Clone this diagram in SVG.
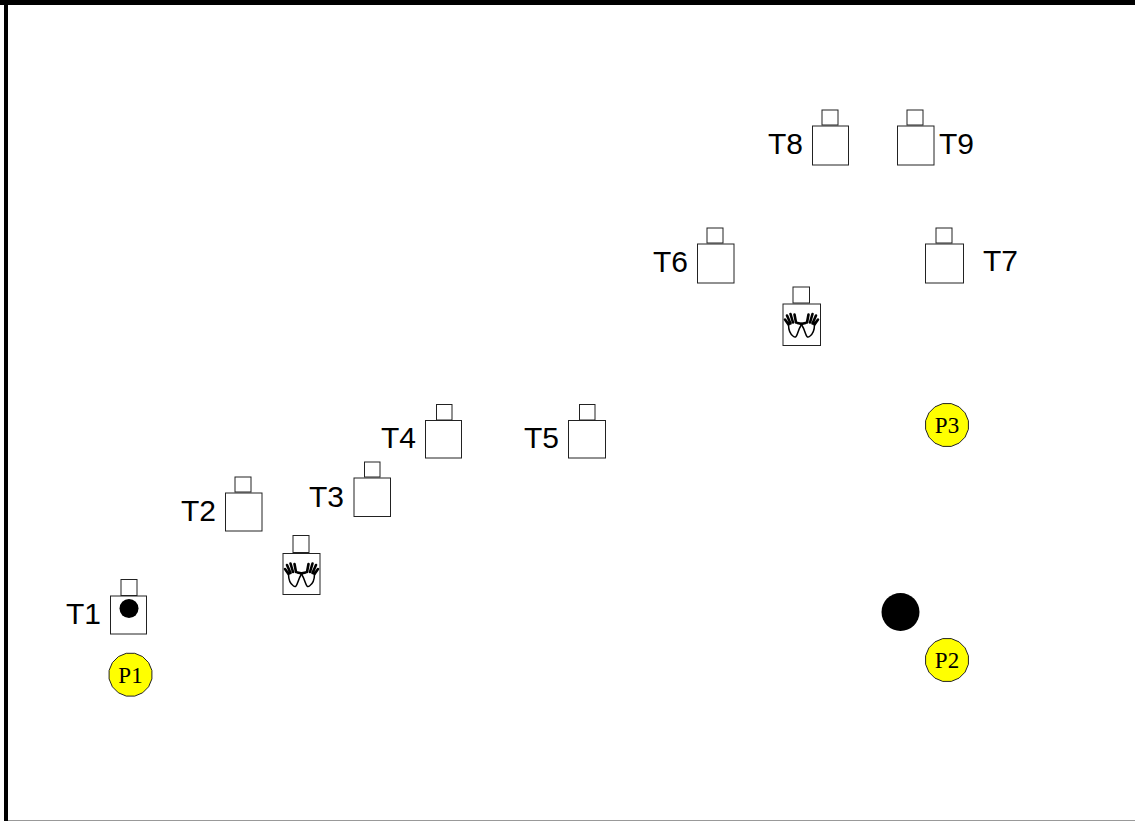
<svg xmlns="http://www.w3.org/2000/svg" width="1135" height="821" viewBox="0 0 1135 821">
<style>
.b{fill:#fff;stroke:#222;stroke-width:1}
.t{font-family:"Liberation Sans",Arial,sans-serif;font-size:30px;fill:#000}
.p{fill:#ff0;stroke:#222;stroke-width:1}
.l{font-family:"Liberation Serif","Times New Roman",serif;font-size:23px;fill:#000;text-anchor:middle}
.h{fill:none;stroke:#000;stroke-width:1.5;stroke-linejoin:round;stroke-linecap:round}
.f{fill:none;stroke:#000;stroke-width:2.6;stroke-linecap:round}
</style>
<defs>
<polygon id="disc" class="p" points="4.25,-21.4 12.1,-18.1 18.1,-12.1 21.4,-4.25 21.4,4.25 18.1,12.1 12.1,18.1 4.25,21.4 -4.25,21.4 -12.1,18.1 -18.1,12.1 -21.4,4.25 -21.4,-4.25 -18.1,-12.1 -12.1,-18.1 -4.25,-21.4"/>
<g id="hand">
<path class="h" d="M-13 11C-13 16-11 21-8 23C-6 24.500-5 23-4 20C-3 17 -2 14 0 11M-13 11L-15 8"/>
<path class="f" d="M-16.500 6L-13 11M-14.500 2L-11 10M-11 0.500L-8.500 9M-7 1L-5.500 9M-4 9.500L0.500 10.500"/>
</g>
<g id="hands">
<use href="#hand"/>
<use href="#hand" transform="scale(-1,1)"/>
</g>
</defs>
<rect id="frame-fill" width="1135" height="821" fill="#fff"/>
<g id="frame">
<rect x="0" y="0" width="1135" height="5" fill="#000"/>
<rect x="4" y="0" width="4" height="821" fill="#000"/>
<rect x="8" y="820" width="1127" height="1" fill="#999"/>
</g>
<g id="connectors"></g>
<g id="T1"><rect class="b" x="121" y="579.5" width="16" height="16"/><rect class="b" x="110.5" y="596" width="36" height="38"/><circle cx="129" cy="608.5" r="9.5" fill="#000"/><text class="t" x="66" y="624">T1</text></g>
<g id="T2"><rect class="b" x="235" y="477" width="16" height="15"/><rect class="b" x="225.5" y="493" width="36.5" height="38"/><text class="t" x="181" y="521">T2</text></g>
<g id="T3"><rect class="b" x="364.5" y="462" width="15.5" height="15"/><rect class="b" x="354" y="478" width="36.5" height="38.5"/><text class="t" x="309" y="507">T3</text></g>
<g id="T4"><rect class="b" x="436.5" y="404.5" width="15.5" height="15.5"/><rect class="b" x="425.5" y="420.5" width="36" height="37.5"/><text class="t" x="381" y="448">T4</text></g>
<g id="T5"><rect class="b" x="579.5" y="404.5" width="15.5" height="15.5"/><rect class="b" x="568.5" y="420.5" width="37" height="37.5"/><text class="t" x="524" y="448">T5</text></g>
<g id="T6"><rect class="b" x="707" y="228" width="16" height="15"/><rect class="b" x="697.5" y="244" width="36.5" height="39"/><text class="t" x="653" y="272">T6</text></g>
<g id="T7"><rect class="b" x="936" y="228" width="16" height="15"/><rect class="b" x="925.5" y="244" width="38" height="39"/><text class="t" x="983" y="271">T7</text></g>
<g id="T8"><rect class="b" x="822" y="110" width="16" height="15"/><rect class="b" x="812.5" y="126" width="36" height="39"/><text class="t" x="768" y="154">T8</text></g>
<g id="T9"><rect class="b" x="907" y="110" width="16" height="15"/><rect class="b" x="897.5" y="126" width="36.5" height="39"/><text class="t" x="939" y="154">T9</text></g>
<g id="hands-left"><rect class="b" x="293" y="535.5" width="16" height="17"/><rect class="b" x="283" y="553.5" width="37" height="41"/><use href="#hands" x="301.5" y="563"/></g>
<g id="hands-right"><rect class="b" x="793" y="287" width="16.5" height="16"/><rect class="b" x="783" y="304" width="37.5" height="41.5"/><use href="#hands" x="801.5" y="313.5"/></g>
<g id="P1"><use href="#disc" x="130.5" y="674.7"/><text class="l" x="130.5" y="683">P1</text></g>
<g id="P2"><use href="#disc" x="947" y="660"/><text class="l" x="947" y="668">P2</text></g>
<g id="P3"><use href="#disc" x="947" y="425"/><text class="l" x="947" y="433">P3</text></g>
<g id="token"><circle cx="900.5" cy="612" r="19" fill="#000"/></g>
</svg>
